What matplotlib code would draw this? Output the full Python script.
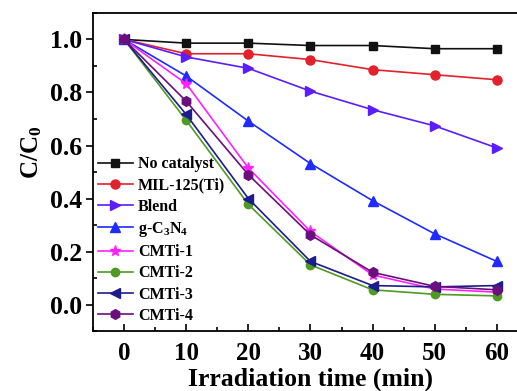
import matplotlib
matplotlib.use("Agg")
import matplotlib.pyplot as plt
from matplotlib.ticker import MultipleLocator

plt.rcParams['font.family'] = ['Liberation Serif', 'DejaVu Serif']
plt.rcParams['font.weight'] = 'bold'
plt.rcParams['mathtext.fontset'] = 'custom'
plt.rcParams['mathtext.rm'] = 'Liberation Serif:bold'
plt.rcParams['mathtext.bf'] = 'Liberation Serif:bold'
plt.rcParams['mathtext.it'] = 'Liberation Serif:bold'

time = [0, 10, 20, 30, 40, 50, 60]
no_catalyst = [1.0, 0.986, 0.986, 0.977, 0.977, 0.965, 0.965]
mil125 = [1.0, 0.946, 0.946, 0.924, 0.886, 0.867, 0.848]
blend = [1.0, 0.934, 0.891, 0.805, 0.735, 0.674, 0.591]
gc3n4 = [1.0, 0.862, 0.692, 0.532, 0.392, 0.267, 0.163]
cmti1 = [1.0, 0.833, 0.515, 0.276, 0.112, 0.059, 0.047]
cmti2 = [1.0, 0.695, 0.378, 0.150, 0.056, 0.039, 0.033]
cmti3 = [1.0, 0.717, 0.400, 0.163, 0.072, 0.067, 0.072]
cmti4 = [1.0, 0.767, 0.490, 0.263, 0.122, 0.069, 0.056]

labels = ['No catalyst', 'MIL-125(Ti)', 'Blend', 'g-C$_3$N$_4$',
          'CMTi-1', 'CMTi-2', 'CMTi-3', 'CMTi-4']
series = [no_catalyst, mil125, blend, gc3n4, cmti1, cmti2, cmti3, cmti4]
colors = ['#111111', '#e3212b', '#5b1cff', '#1f2bff', '#ff22ff', '#4e9a22', '#1c1c8f', '#6b0f7d']
markers = ['s', 'o', '>', '^', '*', 'o', '<', 'h']
msizes = [6, 6.5, 7, 7, 8, 6, 7, 7]

fig = plt.figure(figsize=(5.17, 3.91), dpi=100)
ax = fig.add_axes([0.180, 0.153, 0.841, 0.814])

for y, lab, c, m, ms in zip(series, labels, colors, markers, msizes):
    ax.plot(time, y, color=c, marker=m, markersize=ms, linewidth=1.2, label=lab)

ax.set_xlim(-5, 65)
ax.set_ylim(-0.1, 1.1)
ax.xaxis.set_major_locator(MultipleLocator(10))
ax.xaxis.set_minor_locator(MultipleLocator(5))
ax.yaxis.set_minor_locator(MultipleLocator(0.1))
ax.set_yticks([0.0, 0.2, 0.4, 0.6, 0.8, 1.0])
ax.tick_params(axis='x', which='both', direction='in', labelsize=18, width=1.2, pad=8)
ax.tick_params(axis='x', which='major', length=5)
ax.tick_params(axis='x', which='minor', length=3)
ax.tick_params(axis='y', which='major', direction='out', length=5, labelsize=18.5, width=1.2, pad=3)
ax.tick_params(axis='y', which='minor', direction='in', length=3, width=1.2)
for lbl in ax.get_xticklabels() + ax.get_yticklabels():
    lbl.set_fontweight('bold')
for s in ax.spines.values():
    s.set_linewidth(1.3)

ax.set_xlabel('Irradiation time (min)', fontsize=18.5, fontweight='bold', labelpad=1.5)
ax.set_ylabel('C/C$_0$', fontsize=18, fontweight='bold')
ax.yaxis.set_label_coords(-0.112, 0.563)

leg = ax.legend(loc='upper left', bbox_to_anchor=(0.0, 0.565), frameon=False,
                fontsize=11.5, handlelength=2.2, handletextpad=0.3,
                labelspacing=0.33, borderaxespad=0.1, borderpad=0.2)
for t in leg.get_texts():
    t.set_fontweight('bold')

fig.savefig('out.png', dpi=100)
